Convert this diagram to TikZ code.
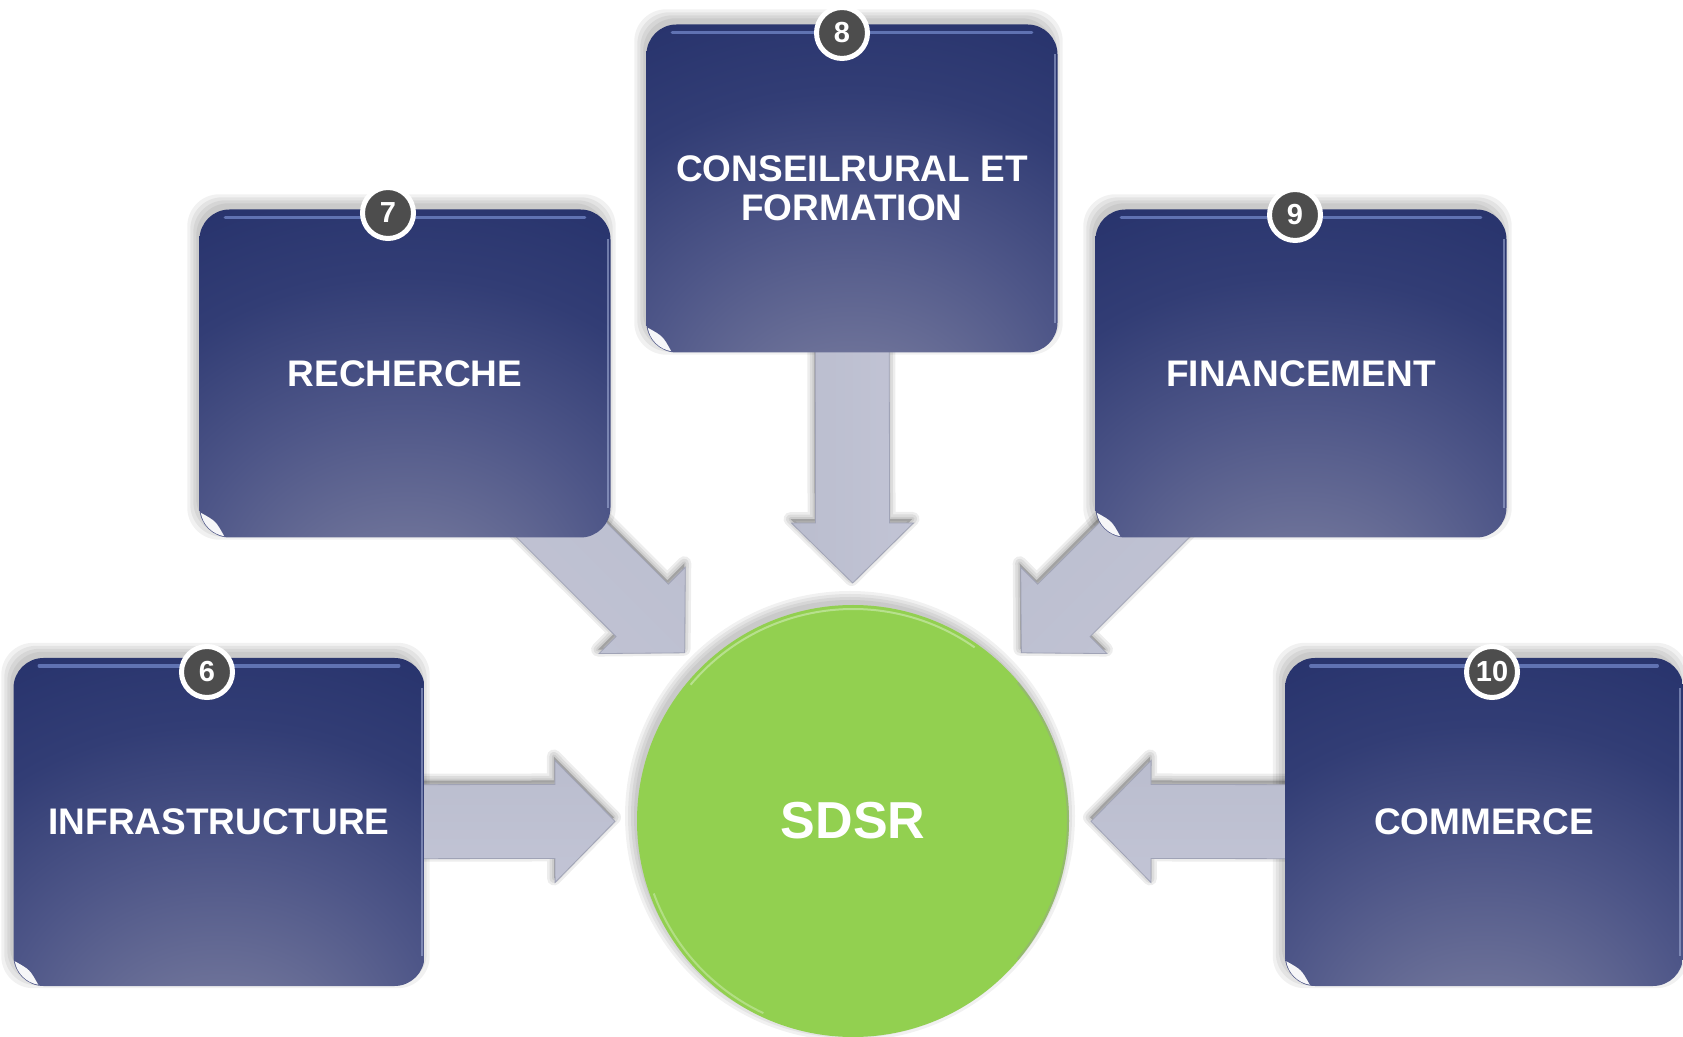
\documentclass[tikz,border=0pt]{standalone}
\usepackage{fontspec}
\setmainfont{Liberation Sans}
\usetikzlibrary{calc}
\pgfdeclarelayer{shadowlayer}
\pgfdeclarelayer{arrowlayer}
\pgfsetlayers{shadowlayer,arrowlayer,main}
\definecolor{boxA}{RGB}{122,125,160}
\definecolor{boxB}{RGB}{108,113,152}
\definecolor{boxC}{RGB}{78,86,136}
\definecolor{boxD}{RGB}{50,61,117}
\definecolor{boxE}{RGB}{34,46,104}
\definecolor{boxF}{RGB}{26,37,94}
\definecolor{rim}{RGB}{110,130,195}
\definecolor{badgegray}{RGB}{77,77,77}
\definecolor{sdsrgreen}{RGB}{146,208,80}
\definecolor{arrA}{RGB}{186,189,206}
\definecolor{arrB}{RGB}{214,216,228}
\definecolor{arrC}{RGB}{194,196,213}
\definecolor{arrLine}{RGB}{160,163,182}
\pgfdeclareradialshading{boxshade}{\pgfpoint{0bp}{-42bp}}{color(0bp)=(boxA); color(12bp)=(boxB); color(26bp)=(boxC); color(40bp)=(boxD); color(58bp)=(boxE); color(100bp)=(boxF)}
\tikzset{
  bluebox/.style={rectangle, rounded corners=30pt, minimum width=411pt, minimum height=328pt,
    shade, shading=boxshade, text=white, font=\bfseries\fontsize{37}{39}\selectfont,
    align=center, inner sep=0pt},
  badge/.style={circle, fill=badgegray, draw=white, line width=5pt, minimum size=51pt,
    inner sep=0pt, text=white, font=\bfseries\fontsize{29}{29}\selectfont},
  hub/.style={circle, fill=sdsrgreen, minimum size=432pt, inner sep=0pt, text=white,
    font=\bfseries\fontsize{52}{52}\selectfont},
}
\newcommand{\softshadow}[1]{%
  \begin{pgfonlayer}{shadowlayer}
    \foreach \k in {3,6,9,12}{
      \fill[black, opacity=0.055, rounded corners=32pt]
        ($(#1.south west)+(-\k,-\k+10)$) rectangle ($(#1.north east)+(\k-7,\k+3)$);
    }
  \end{pgfonlayer}}
\newcommand{\boxgloss}[1]{%
  \draw[rim, line width=3.5pt, line cap=round, opacity=.8]
    ($(#1.north west)+(26,-8)$) -- ($(#1.north east)+(-26,-8)$);
  \draw[rim!60!white, line width=2pt, opacity=.55]
    ($(#1.north east)+(-3,-30)$) -- ($(#1.south east)+(-3,30)$);
  \coordinate (#1-cc) at ($(#1.south west)+(30,30)$);
  \fill[white, opacity=.95] ($(#1-cc)+(190:29)$) arc[start angle=190, end angle=260, radius=29]
    .. controls ($(#1-cc)+(225:19)$) .. cycle;}
\newcommand{\blockarrow}[3]{%
  \path ($(#2)!60pt!(#1)$) coordinate (hb)
    ($(#1)!37pt!90:(#2)$) coordinate (s1)
    ($(#1)!37pt!-90:(#2)$) coordinate (s2)
    ($(hb)!37pt!90:(#2)$) coordinate (h1)
    ($(hb)!37pt!-90:(#2)$) coordinate (h2)
    ($(hb)!61pt!90:(#2)$) coordinate (w1)
    ($(hb)!61pt!-90:(#2)$) coordinate (w2);
  \begin{pgfonlayer}{shadowlayer}
    \foreach \w in {14,9,4}{
      \filldraw[black, opacity=0.07, line width=\w pt, line join=round,
        transform canvas={shift={(-1pt,4pt)}}]
        (s1)--(h1)--(w1)--(#2)--(w2)--(h2)--(s2)--cycle;
    }
  \end{pgfonlayer}
  \begin{pgfonlayer}{arrowlayer}
    \draw[arrLine, line width=0.8pt, top color=arrA, middle color=arrB, bottom color=arrC,
      shading angle=#3] (s1)--(h1)--(w1)--(#2)--(w2)--(h2)--(s2)--cycle;
  \end{pgfonlayer}}
\begin{document}
\begin{tikzpicture}[x=1pt,y=1pt]
  \useasboundingbox (0,0) rectangle (1683,1036);
  \begin{pgfonlayer}{shadowlayer}
    \fill[white] (0,0) rectangle (1683,1036);
  \end{pgfonlayer}

  % hub
  \node[hub] (hub) at (853,215) {SDSR};
  \begin{pgfonlayer}{shadowlayer}
    \foreach \k in {3,6,9,12}{
      \fill[black, opacity=0.055] ($(hub.center)+(-3,5)$) circle[radius=213+\k];
    }
  \end{pgfonlayer}
  \draw[white!50!sdsrgreen, line width=2pt, opacity=.7]
    ($(hub.center)+(55:212)$) arc[start angle=55, end angle=140, radius=212];
  \draw[white!50!sdsrgreen, line width=2pt, opacity=.6]
    ($(hub.center)+(200:212)$) arc[start angle=200, end angle=245, radius=212];
  \draw[black!40, line width=2pt, opacity=.4]
    ($(hub.center)+(-40:215)$) arc[start angle=-40, end angle=40, radius=215];

  % boxes
  \node[bluebox] (b6) at (219,214) {INFRASTRUCTURE};
  \node[bluebox] (b7) at (405,662.5) {RECHERCHE};
  \node[bluebox] (b8) at (852,847.5) {CONSEILRURAL ET\\FORMATION};
  \node[bluebox] (b9) at (1301,662.5) {FINANCEMENT};
  \node[bluebox, minimum width=398pt] (b10) at (1484,214) {COMMERCE};
  \foreach \b in {b6,b7,b8,b9,b10}{\softshadow{\b}\boxgloss{\b}}

  % badges
  \node[badge] (n6) at (207,364) {6};
  \node[badge] (n7) at (388,823) {7};
  \node[badge] (n8) at (842,1003) {8};
  \node[badge] (n9) at (1295,821) {9};
  \node[badge] (n10) at (1492,364) {10};

  % arrows
  \coordinate (t6) at ($(hub.center)!238pt!(b6.center)$);
  \coordinate (t7) at ($(hub.center)!238pt!(b7.center)$);
  \coordinate (t8) at ($(hub.center)!238pt!(b8.center)$);
  \coordinate (t9) at ($(hub.center)!238pt!(b9.center)$);
  \coordinate (t10) at ($(hub.center)!238pt!(b10.center)$);
  \blockarrow{b6.center}{t6}{0}
  \blockarrow{b7.center}{t7}{-45}
  \blockarrow{b8.center}{t8}{90}
  \blockarrow{b9.center}{t9}{45}
  \blockarrow{b10.center}{t10}{0}
\end{tikzpicture}
\end{document}
